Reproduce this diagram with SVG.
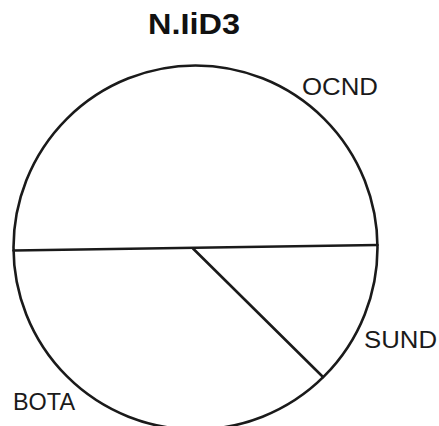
<svg xmlns="http://www.w3.org/2000/svg" width="439" height="426" viewBox="0 0 439 426">
<style>
.ln{fill:none;stroke:#1a1a1a;stroke-width:2.6;stroke-linecap:round}
.lb{font-family:"Liberation Sans",Arial,sans-serif;font-size:23px;fill:#1a1a1a}
.tt{font-family:"Liberation Sans",Arial,sans-serif;font-size:30px;font-weight:bold;fill:#111}
</style>
<rect width="439" height="426" fill="#fff"/>
<text class="tt" x="148" y="34" textLength="92" lengthAdjust="spacingAndGlyphs">N.IiD3</text>
<g id="pie">
<circle class="ln" cx="195.5" cy="247.5" r="182"/>
</g>
<g id="connectors">
<line class="ln" x1="13.5" y1="250.5" x2="377.5" y2="245"/>
<line class="ln" x1="193" y1="248.5" x2="323" y2="377"/>
</g>
<g id="OCND"><text class="lb" x="302" y="95" textLength="76" lengthAdjust="spacingAndGlyphs">OCND</text></g>
<g id="SUND"><text class="lb" x="364" y="348" textLength="73" lengthAdjust="spacingAndGlyphs">SUND</text></g>
<g id="BOTA"><text class="lb" x="13" y="410" textLength="62" lengthAdjust="spacingAndGlyphs">BOTA</text></g>
</svg>
